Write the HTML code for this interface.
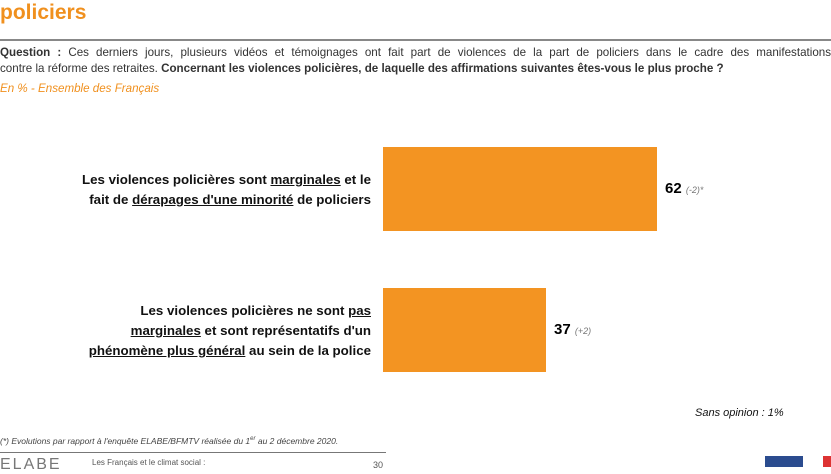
<!DOCTYPE html>
<html><head><meta charset="utf-8"><style>
body{margin:0;width:831px;height:467px;overflow:hidden;background:#fff;font-family:"Liberation Sans",sans-serif;position:relative}
.a{position:absolute;white-space:nowrap}
.lbl{position:absolute;text-align:right;font-weight:bold;font-size:13.3px;line-height:20px;color:#111}
u{text-decoration:underline}
.bar{position:absolute;background:#f39422}
.j{text-align:justify;text-align-last:justify;white-space:normal}
</style></head><body>
<div class="a" style="left:0;top:1px;font-size:21px;font-weight:bold;color:#f0901e">policiers</div>
<div class="a" style="left:0;top:39px;width:831px;height:2px;background:#888"></div>
<div class="a j" style="left:0;top:45px;width:831px;font-size:11.6px;color:#333;line-height:16px"><b>Question :</b> Ces derniers jours, plusieurs vidéos et témoignages ont fait part de violences de la part de policiers dans le cadre des manifestations</div>
<div class="a" style="left:0;top:61px;font-size:11.6px;color:#333;line-height:16px">contre la réforme des retraites. <b>Concernant les violences policières, de laquelle des affirmations suivantes êtes-vous le plus proche ?</b></div>
<div class="a" style="left:0;top:82px;font-size:11.6px;color:#f0901e;font-style:italic">En % - Ensemble des Français</div>
<div class="lbl" style="right:460px;top:170px">Les violences policières sont <u>marginales</u> et le<br>fait de <u>dérapages d'une minorité</u> de policiers</div>
<div class="bar" style="left:383px;top:147px;width:274px;height:84px"></div>
<div class="a" style="left:665px;top:180px;font-size:15px;font-weight:bold">62 <span style="font-size:9px;font-weight:normal;color:#777;font-style:italic">(-2)*</span></div>
<div class="lbl" style="right:460px;top:301px">Les violences policières ne sont <u>pas</u><br><u>marginales</u> et sont représentatifs d'un<br><u>phénomène plus général</u> au sein de la police</div>
<div class="bar" style="left:383px;top:288px;width:163px;height:84px"></div>
<div class="a" style="left:554px;top:321px;font-size:15px;font-weight:bold">37 <span style="font-size:9px;font-weight:normal;color:#777;font-style:italic">(+2)</span></div>
<div class="a" style="left:695px;top:407px;font-size:11px;font-style:italic;color:#111">Sans opinion : 1%</div>
<div class="a" style="left:0;top:436px;font-size:8.5px;font-style:italic;color:#444">(*) Evolutions par rapport à l'enquête ELABE/BFMTV réalisée du 1<sup style="font-size:6px">er</sup> au 2 décembre 2020.</div>
<div class="a" style="left:0;top:452px;width:386px;height:1px;background:#777"></div>
<div class="a" style="left:0;top:456px;font-size:16px;color:#777;letter-spacing:2px">ELABE</div>
<div class="a" style="left:92px;top:458px;font-size:8px;color:#555">Les Français et le climat social :</div>
<div class="a" style="left:373px;top:460px;font-size:9px;color:#555">30</div>
<div class="a" style="left:765px;top:456px;width:38px;height:11px;background:#2b4c8f"></div>
<div class="a" style="left:823px;top:456px;width:8px;height:11px;background:#d33"></div>
</body></html>
